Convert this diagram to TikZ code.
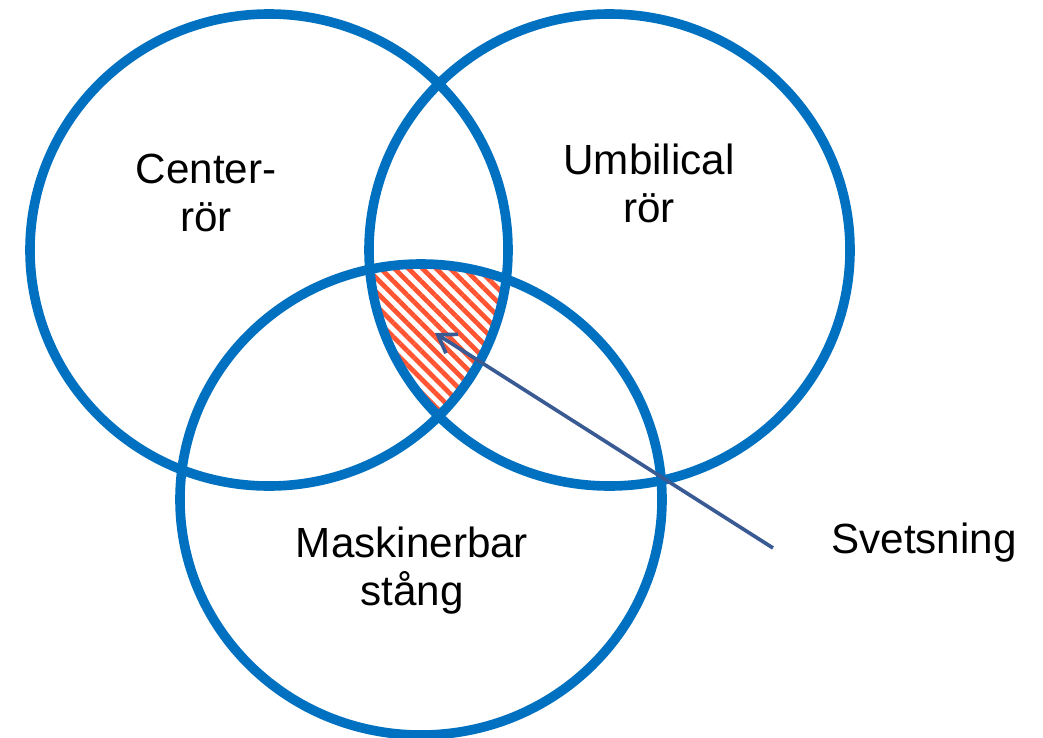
\documentclass[tikz,border=0pt]{standalone}
\usepackage{fontspec}
\setmainfont{Liberation Sans}
\usetikzlibrary{arrows.meta, patterns.meta, positioning}

\definecolor{ringblue}{HTML}{0070C0}
\definecolor{weldred}{HTML}{FF5533}
\definecolor{leaderblue}{HTML}{3A5A94}

\begin{document}
\begin{tikzpicture}[
    x=0.025cm, y=-0.025cm,
    ring/.style={draw=ringblue, line width=0.24cm},
    label/.style={align=center, inner sep=0pt, font=\fontsize{30}{34}\selectfont},
    arrow/.style={-{Straight Barb[length=0.42cm, width=0.56cm]}, draw=leaderblue, line width=2.6pt}
]
\useasboundingbox (0,0) rectangle (1043,737);
% hatched weld zone
\begin{scope}
  \clip (269,250) ellipse [x radius=239, y radius=236];
  \clip (609.5,250) ellipse [x radius=240.5, y radius=236];
  \fill[pattern={Lines[angle=-45, distance=7pt, line width=3.4pt]}, pattern color=weldred]
    (421,499.5) ellipse [x radius=241, y radius=235.5];
\end{scope}
\draw[ring] (269,250) ellipse [x radius=239, y radius=236];
\draw[ring] (609.5,250) ellipse [x radius=240.5, y radius=236];
\draw[ring] (421,499.5) ellipse [x radius=241, y radius=235.5];
\node[label, anchor=north] (centre) at (206,154) {Center-\\rör};
\node[label, anchor=north] (umbilical) at (649,144) {Umbilical\\rör};
\node[label, anchor=north] (bar) at (412,527) {Maskinerbar\\stång};
\node[label, anchor=base] (weld) at (924,553) {Svetsning};
\coordinate (leadstart) at (773,548);
\coordinate (weldtip) at (435,333);
\draw[arrow] (leadstart) -- (weldtip);
\end{tikzpicture}
\end{document}
